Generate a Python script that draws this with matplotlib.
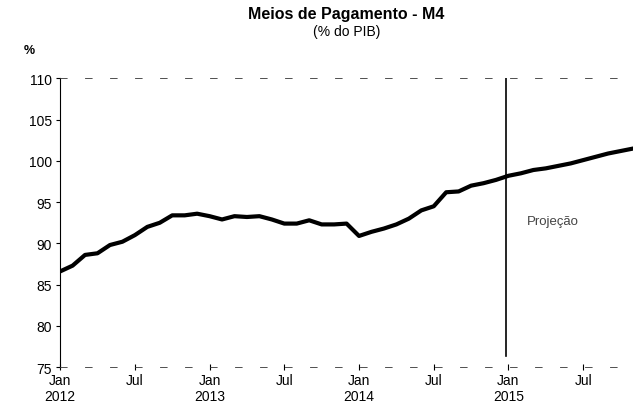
import numpy as np
import matplotlib.pyplot as plt

plt.rcParams['font.family'] = ['Liberation Sans', 'DejaVu Sans']

# M4 as % of GDP, monthly from Jan 2012 (projection from Jan 2015)
m4 = [86.6, 87.3, 88.6, 88.8, 89.8, 90.2, 91.0, 92.0, 92.5, 93.4, 93.4, 93.6,
      93.3, 92.9, 93.3, 93.2, 93.3, 92.9, 92.4, 92.4, 92.8, 92.3, 92.3, 92.4,
      90.9, 91.4, 91.8, 92.3, 93.0, 94.0, 94.5, 96.2, 96.3, 97.0, 97.3, 97.7,
      98.2, 98.5, 98.9, 99.1, 99.4, 99.7, 100.1, 100.5, 100.9, 101.2, 101.5]
tick_pos = [0, 6, 12, 18, 24, 30, 36, 42]
tick_labels = ['Jan\n2012', 'Jul', 'Jan\n2013', 'Jul', 'Jan\n2014', 'Jul', 'Jan\n2015', 'Jul']
proj_start = 35.8

fig = plt.figure(figsize=(6.33, 4.14), dpi=100)
ax = fig.add_axes([0.095, 0.111, 0.905, 0.697])

months = np.arange(len(m4))
ax.plot(months, m4, color='black', lw=3, solid_joinstyle='round')

# projection marker
ax.plot([proj_start, proj_start], [76.3, 110], color='black', lw=1.2)
ax.text(37.5, 92.7, 'Projeção', fontsize=9.5, color='#444444', va='center')

ax.set_xlim(0, 46)
ax.set_ylim(75, 110)
ax.set_yticks(np.arange(75, 111, 5))
ax.set_xticks(tick_pos)
ax.set_xticklabels(tick_labels)
ax.tick_params(labelsize=10, length=3, width=0.8, color='black', pad=3)
ax.tick_params(axis='x', direction='inout', length=4, pad=2)

ax.spines['right'].set_visible(False)
ax.spines['left'].set_linewidth(0.8)
for s in ['top', 'bottom']:
    ax.spines[s].set_linewidth(0.6)
    ax.spines[s].set_color('#333333')
    ax.spines[s].set_linestyle((0, (8, 22)))

fig.text(0.547, 0.965, 'Meios de Pagamento - M4', ha='center', va='center',
         fontsize=11.5, fontweight='bold')
fig.text(0.547, 0.922, '(% do PIB)', ha='center', va='center', fontsize=10)
fig.text(0.047, 0.878, '%', ha='center', va='center', fontsize=9, fontweight='bold')

fig.savefig('out.png', dpi=100)
